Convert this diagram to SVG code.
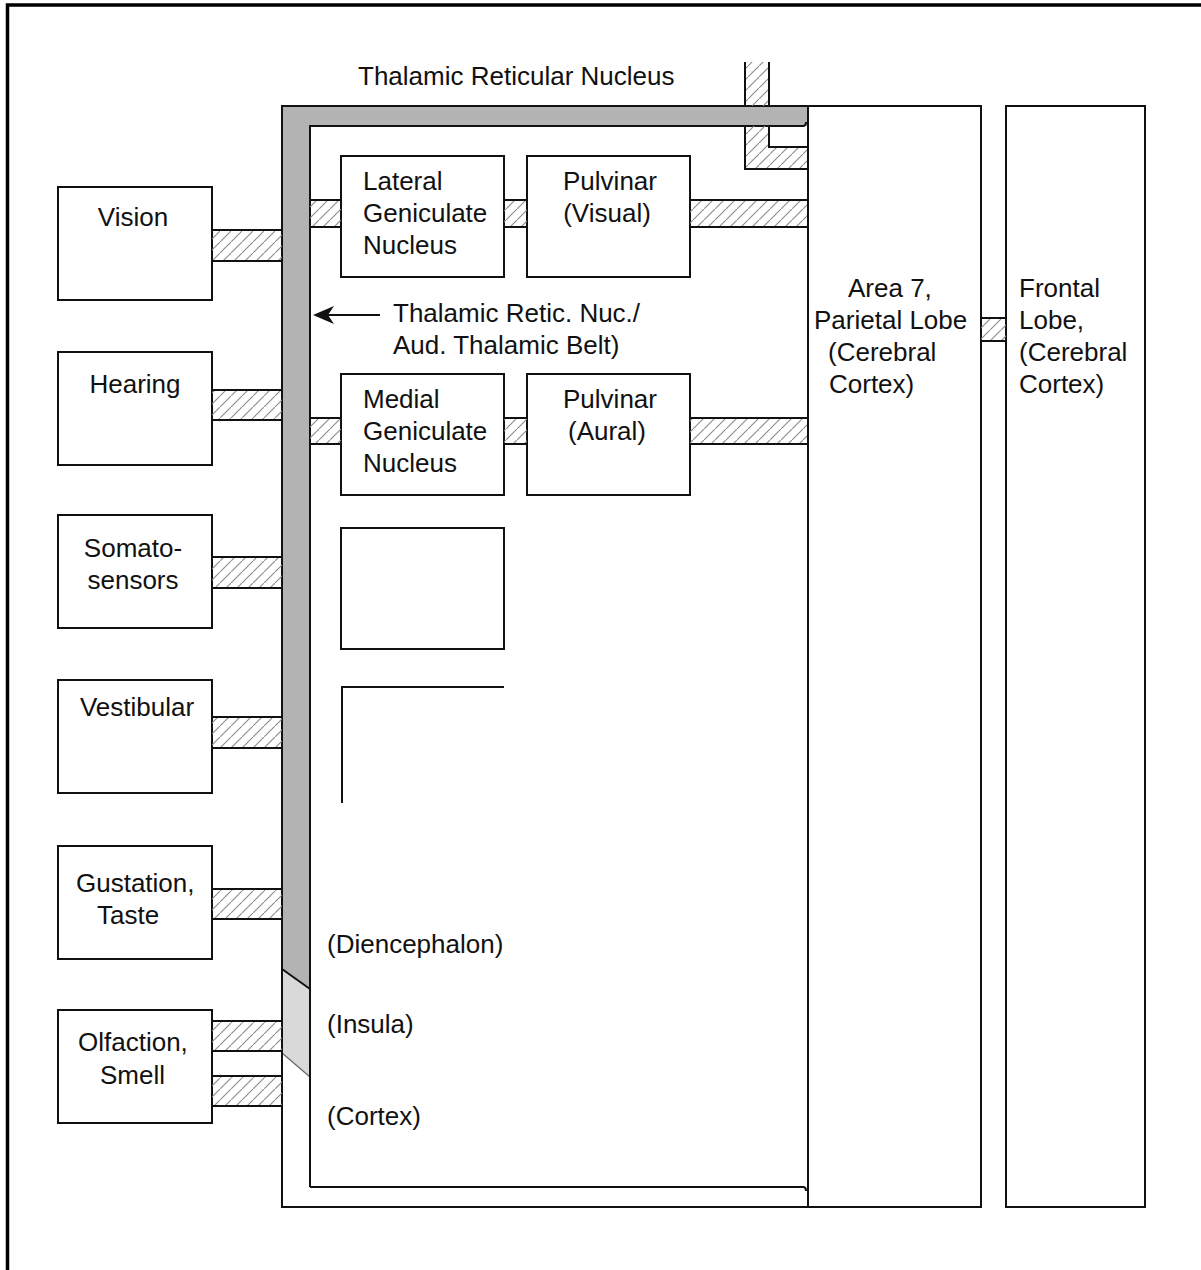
<svg xmlns="http://www.w3.org/2000/svg" width="1201" height="1270" viewBox="0 0 1201 1270">
  <defs>
    <pattern id="hatch" patternUnits="userSpaceOnUse" width="11" height="11">
      <line x1="-1" y1="12" x2="12" y2="-1" stroke="#8a8a8a" stroke-width="1.1"/>
    </pattern>
  </defs>
  <style>
    .box { fill: #fff; stroke: #111; stroke-width: 2; }
    .bar { fill: url(#hatch); stroke: none; }
    .edge { stroke: #111; stroke-width: 2; fill: none; }
    text { font-family: "Liberation Sans", Arial, sans-serif; font-size: 26px; fill: #111; }
    .c { text-anchor: middle; }
  </style>

  <rect width="1201" height="1270" fill="#fff"/>

  <!-- page frame -->
  <path d="M7.5,1270 V5 H1201" fill="none" stroke="#000" stroke-width="3.5"/>

  <!-- thalamus block with reticular belt -->
  <g id="thalamus">
    <rect x="282" y="106" width="526" height="1101" class="box"/>
    <path d="M282,106 H807 V126 H310 V989 L282,969 Z" fill="#b3b3b3"/>
    <path d="M282,969 L310,989 V1077 L282,1053 Z" fill="#d9d9d9"/>
    <path d="M282,969 L310,989" stroke="#111" stroke-width="2"/>
    <path d="M282,1053 L310,1077" stroke="#666" stroke-width="1.2"/>
    <path d="M310,1187 V126 H803 Q806,126 806,122" class="edge"/>
    <path d="M310,1187 H803 Q806,1187 806,1191" class="edge"/>
    <rect x="282" y="106" width="526" height="1101" fill="none" stroke="#111" stroke-width="2"/>
    <text x="358" y="85">Thalamic Reticular Nucleus</text>
    <text x="327" y="953">(Diencephalon)</text>
    <text x="327" y="1033">(Insula)</text>
    <text x="327" y="1125">(Cortex)</text>
  </g>

  <!-- sensory inputs -->
  <g id="vision">
    <rect x="58" y="187" width="154" height="113" class="box"/>
    <text x="133" y="226" class="c">Vision</text>
  </g>
  <g id="hearing">
    <rect x="58" y="352" width="154" height="113" class="box"/>
    <text x="135" y="393" class="c">Hearing</text>
  </g>
  <g id="somatosensors">
    <rect x="58" y="515" width="154" height="113" class="box"/>
    <text x="133" y="557" class="c">Somato-</text>
    <text x="133" y="589" class="c">sensors</text>
  </g>
  <g id="vestibular">
    <rect x="58" y="680" width="154" height="113" class="box"/>
    <text x="137" y="716" class="c">Vestibular</text>
  </g>
  <g id="gustation">
    <rect x="58" y="846" width="154" height="113" class="box"/>
    <text x="76" y="892">Gustation,</text>
    <text x="97" y="924">Taste</text>
  </g>
  <g id="olfaction">
    <rect x="58" y="1010" width="154" height="113" class="box"/>
    <text x="78" y="1051">Olfaction,</text>
    <text x="100" y="1084">Smell</text>
  </g>

  <!-- thalamic nuclei -->
  <g id="lgn">
    <rect x="341" y="156" width="163" height="121" class="box"/>
    <text x="363" y="190">Lateral</text>
    <text x="363" y="222">Geniculate</text>
    <text x="363" y="254">Nucleus</text>
  </g>
  <g id="pulvinar-visual">
    <rect x="527" y="156" width="163" height="121" class="box"/>
    <text x="610" y="190" class="c">Pulvinar</text>
    <text x="607" y="222" class="c">(Visual)</text>
  </g>
  <g id="mgn">
    <rect x="341" y="374" width="163" height="121" class="box"/>
    <text x="363" y="408">Medial</text>
    <text x="363" y="440">Geniculate</text>
    <text x="363" y="472">Nucleus</text>
  </g>
  <g id="pulvinar-aural">
    <rect x="527" y="374" width="163" height="121" class="box"/>
    <text x="610" y="408" class="c">Pulvinar</text>
    <text x="607" y="440" class="c">(Aural)</text>
  </g>
  <g id="empty-nucleus">
    <rect x="341" y="528" width="163" height="121" class="box"/>
  </g>
  <g id="open-nucleus">
    <path d="M342,803 V687 H504" class="edge"/>
  </g>

  <!-- cortical areas -->
  <g id="area7">
    <rect x="808" y="106" width="173" height="1101" class="box"/>
    <text x="848" y="297">Area 7,</text>
    <text x="814" y="329">Parietal Lobe</text>
    <text x="828" y="361">(Cerebral</text>
    <text x="829" y="393">Cortex)</text>
  </g>
  <g id="frontal">
    <rect x="1006" y="106" width="139" height="1101" class="box"/>
    <text x="1019" y="297">Frontal</text>
    <text x="1019" y="329">Lobe,</text>
    <text x="1019" y="361">(Cerebral</text>
    <text x="1019" y="393">Cortex)</text>
  </g>

  <!-- connectors: hatched pathways -->
  <g id="connectors">
    <!-- sensory inputs to reticular belt -->
    <rect x="212" y="230" width="70" height="31" class="bar"/>
    <path d="M212,230 H282 M212,261 H282" class="edge"/>
    <rect x="212" y="390" width="70" height="30" class="bar"/>
    <path d="M212,390 H282 M212,420 H282" class="edge"/>
    <rect x="212" y="557" width="70" height="31" class="bar"/>
    <path d="M212,557 H282 M212,588 H282" class="edge"/>
    <rect x="212" y="717" width="70" height="31" class="bar"/>
    <path d="M212,717 H282 M212,748 H282" class="edge"/>
    <rect x="212" y="889" width="70" height="30" class="bar"/>
    <path d="M212,889 H282 M212,919 H282" class="edge"/>
    <rect x="212" y="1021" width="70" height="30" class="bar"/>
    <path d="M212,1021 H282 M212,1051 H282" class="edge"/>
    <rect x="212" y="1076" width="70" height="30" class="bar"/>
    <path d="M212,1076 H282 M212,1106 H282" class="edge"/>

    <!-- visual path -->
    <rect x="310" y="200" width="31" height="27" class="bar"/>
    <path d="M310,200 H341 M310,227 H341" class="edge"/>
    <rect x="504" y="200" width="23" height="27" class="bar"/>
    <path d="M504,200 H527 M504,227 H527" class="edge"/>
    <rect x="690" y="200" width="117" height="27" class="bar"/>
    <path d="M690,200 H807 M690,227 H807" class="edge"/>

    <!-- auditory path -->
    <rect x="310" y="418" width="31" height="26" class="bar"/>
    <path d="M310,418 H341 M310,444 H341" class="edge"/>
    <rect x="504" y="418" width="23" height="26" class="bar"/>
    <path d="M504,418 H527 M504,444 H527" class="edge"/>
    <rect x="690" y="418" width="117" height="26" class="bar"/>
    <path d="M690,418 H807 M690,444 H807" class="edge"/>

    <!-- parietal to frontal -->
    <rect x="981" y="318" width="25" height="23" class="bar"/>
    <path d="M981,318 H1006 M981,341 H1006" class="edge"/>

    <!-- reticular nucleus pathway crossing the belt -->
    <rect x="745" y="62" width="24" height="44" class="bar"/>
    <path d="M745,62 V106 M769,62 V106" class="edge"/>
    <path d="M745,126 V169 H807 V147 H769 V126 Z" class="bar"/>
    <path d="M745,126 V169 H807 M769,126 V147 H807" class="edge"/>

    <!-- label pointer to the belt -->
    <line x1="380" y1="315" x2="326" y2="315" stroke="#111" stroke-width="2"/>
    <path d="M313,315 L334,306 L328,315 L334,324 Z" fill="#111"/>
  </g>
  <text x="393" y="322">Thalamic Retic. Nuc./</text>
  <text x="393" y="354">Aud. Thalamic Belt)</text>
</svg>
